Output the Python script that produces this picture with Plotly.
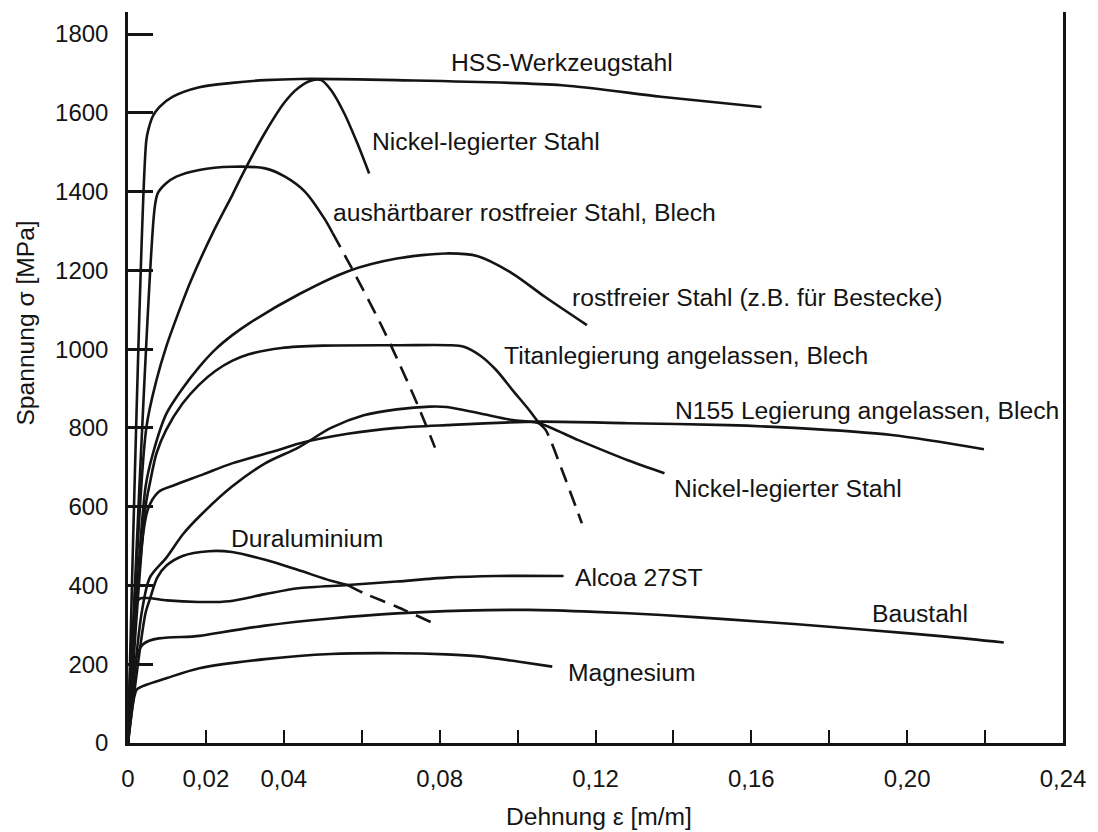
import plotly.graph_objects as go

# ---------------- data (strain in m/m, stress in MPa) ----------------
hss_x = [0, 0.0047, 0.0053, 0.0064, 0.0081, 0.0115, 0.0183, 0.0267, 0.0352, 0.044, 0.069, 0.1114, 0.1368, 0.1626]
hss_y = [0, 1530, 1560, 1592, 1615, 1641, 1665, 1676, 1683, 1686, 1683, 1670, 1641, 1615]

ni1_x = [0, 0.0047, 0.0073, 0.0098, 0.0140, 0.0162, 0.0217, 0.0267, 0.0292, 0.0352, 0.0403, 0.0437, 0.0471, 0.0496, 0.0521, 0.0555, 0.0589, 0.0619]
ni1_y = [0, 800, 921, 1006, 1120, 1175, 1294, 1390, 1440, 1550, 1628, 1663, 1682, 1683, 1658, 1599, 1522, 1446]

aus_x = [0, 0.0068, 0.0076, 0.0098, 0.0124, 0.0183, 0.0267, 0.0352, 0.0403, 0.0454, 0.0505, 0.0525]
aus_y = [0, 1355, 1395, 1421, 1438, 1455, 1463, 1459, 1438, 1400, 1330, 1295]
aus_dash_x = [0.0525, 0.0572, 0.0648, 0.0691, 0.0742, 0.0788]
aus_dash_y = [1295, 1210, 1065, 975, 862, 750]

rost_x = [0, 0.0045, 0.0064, 0.0098, 0.014, 0.0183, 0.0225, 0.0267, 0.031, 0.044, 0.0565, 0.069, 0.0817, 0.0898, 0.0987, 0.107, 0.1178]
rost_y = [0, 650, 735, 835, 900, 955, 1000, 1035, 1065, 1140, 1198, 1230, 1243, 1236, 1192, 1133, 1061]

ti_x = [0, 0.0045, 0.0056, 0.0073, 0.0098, 0.014, 0.0183, 0.0225, 0.0267, 0.031, 0.0394, 0.05, 0.07, 0.0825, 0.0862, 0.0902, 0.0945, 0.0987, 0.103, 0.1055]
ti_y = [0, 600, 659, 735, 795, 862, 910, 945, 970, 987, 1003, 1009, 1010, 1010, 1006, 985, 947, 896, 845, 812]
ti_dash_x = [0.1055, 0.1072, 0.1114, 0.1165]
ti_dash_y = [812, 795, 693, 558]

n155_x = [0, 0.005, 0.0079, 0.012, 0.0193, 0.0267, 0.0386, 0.0437, 0.0564, 0.069, 0.0817, 0.1055, 0.1283, 0.154, 0.171, 0.196, 0.2197]
n155_y = [0, 590, 638, 655, 682, 710, 744, 760, 785, 800, 807, 816, 812, 807, 800, 782, 746]

ni2_x = [0, 0.0035, 0.0056, 0.0098, 0.0141, 0.0183, 0.0267, 0.0352, 0.0437, 0.0521, 0.0605, 0.069, 0.0775, 0.0818, 0.0902, 0.0987, 0.1055, 0.1156, 0.1283, 0.1377]
ni2_y = [0, 330, 420, 470, 530, 575, 651, 710, 750, 800, 832, 847, 854, 853, 837, 820, 812, 769, 718, 685]

dur_x = [0, 0.0045, 0.0056, 0.0075, 0.0098, 0.014, 0.0207, 0.0267, 0.0352, 0.0437, 0.0521, 0.0564]
dur_y = [0, 330, 365, 420, 450, 475, 487, 485, 465, 439, 412, 401]
dur_dash_x = [0.0564, 0.0606, 0.069, 0.0784]
dur_dash_y = [401, 380, 346, 304]

alc_x = [0, 0.0028, 0.005, 0.01, 0.018, 0.026, 0.0352, 0.0437, 0.0564, 0.069, 0.0817, 0.0945, 0.1118]
alc_y = [0, 365, 368, 362, 358, 360, 378, 393, 401, 410, 420, 424, 424]

bau_x = [0, 0.0038, 0.0183, 0.0352, 0.052, 0.069, 0.086, 0.1029, 0.1198, 0.137, 0.154, 0.171, 0.19, 0.21, 0.2248]
bau_y = [0, 250, 272, 298, 316, 329, 336, 338, 333, 325, 314, 302, 287, 270, 255]

mg_x = [0, 0.0022, 0.0035, 0.01, 0.0183, 0.0352, 0.052, 0.069, 0.0817, 0.0902, 0.1, 0.1089]
mg_y = [0, 135, 143, 165, 190, 213, 226, 228, 225, 220, 207, 194]

x_tickvals = [0, 0.02, 0.04, 0.06, 0.08, 0.10, 0.12, 0.14, 0.16, 0.18, 0.20, 0.22, 0.24]
x_ticktext = ["0", "0,02", "0,04", "", "0,08", "", "0,12", "", "0,16", "", "0,20", "", "0,24"]
y_tickvals = [0, 200, 400, 600, 800, 1000, 1200, 1400, 1600, 1800]
y_ticktext = ["0", "200", "400", "600", "800", "1000", "1200", "1400", "1600", "1800"]

labels = ["HSS-Werkzeugstahl", "Nickel-legierter Stahl", "aushärtbarer rostfreier Stahl, Blech",
          "rostfreier Stahl (z.B. für Bestecke)", "Titanlegierung angelassen, Blech",
          "N155 Legierung angelassen, Blech", "Nickel-legierter Stahl", "Duraluminium",
          "Alcoa 27ST", "Baustahl", "Magnesium"]
label_pos = [(0.0825, 1729), (0.062, 1526), (0.0521, 1348), (0.1135, 1132), (0.096, 985),
             (0.140, 845), (0.1397, 645), (0.0259, 520), (0.1143, 421), (0.1905, 330), (0.1125, 180)]

INK = "#141414"
FONT = "Liberation Sans, Arial, Helvetica, sans-serif"

fig = go.Figure()

def add(x, y, dash="solid"):
    fig.add_trace(go.Scatter(x=x, y=y, mode="lines", showlegend=False, hoverinfo="skip",
                             line=dict(color=INK, width=2.6, dash=dash, shape="spline", smoothing=0.8)))

for xs, ys in [(hss_x, hss_y), (ni1_x, ni1_y), (aus_x, aus_y), (rost_x, rost_y), (ti_x, ti_y),
               (n155_x, n155_y), (ni2_x, ni2_y), (dur_x, dur_y), (alc_x, alc_y), (bau_x, bau_y), (mg_x, mg_y)]:
    add(xs, ys)
for xs, ys in [(aus_dash_x, aus_dash_y), (ti_dash_x, ti_dash_y), (dur_dash_x, dur_dash_y)]:
    add(xs, ys, dash="16px,9px")

for txt, (lx, ly) in zip(labels, label_pos):
    fig.add_annotation(x=lx, y=ly, text=txt, showarrow=False, xanchor="left", yanchor="middle",
                       font=dict(family=FONT, size=24.7, color=INK))

fig.add_annotation(xref="paper", yref="paper", x=0.504, y=-0.100, text="Dehnung ε [m/m]",
                   showarrow=False, xanchor="center", yanchor="middle",
                   font=dict(family=FONT, size=24.6, color=INK))
fig.add_annotation(xref="paper", yref="paper", x=-0.110, y=0.574, text="Spannung σ [MPa]",
                   showarrow=False, xanchor="center", yanchor="middle", textangle=-90,
                   font=dict(family=FONT, size=24.6, color=INK))

fig.update_layout(
    width=1098, height=832,
    margin=dict(l=128, r=25, t=12, b=89),
    paper_bgcolor="white", plot_bgcolor="white",
    font=dict(family=FONT, size=24, color=INK),
    xaxis=dict(range=[0, 0.24], showline=True, linecolor=INK, linewidth=2.5,
               ticks="inside", ticklen=13, tickwidth=2, tickcolor=INK,
               tickvals=x_tickvals, ticktext=x_ticktext, showgrid=False, zeroline=False,
               tickfont=dict(family=FONT, size=24, color=INK), ticklabelstandoff=12),
    yaxis=dict(range=[0, 1856], showline=True, mirror=True, linecolor=INK, linewidth=2.5,
               ticks="inside", ticklen=25, tickwidth=2.5, tickcolor=INK,
               tickvals=y_tickvals, ticktext=y_ticktext, showgrid=False, zeroline=False,
               tickfont=dict(family=FONT, size=24, color=INK), ticklabelstandoff=12),
)

fig.write_html("out.html")
